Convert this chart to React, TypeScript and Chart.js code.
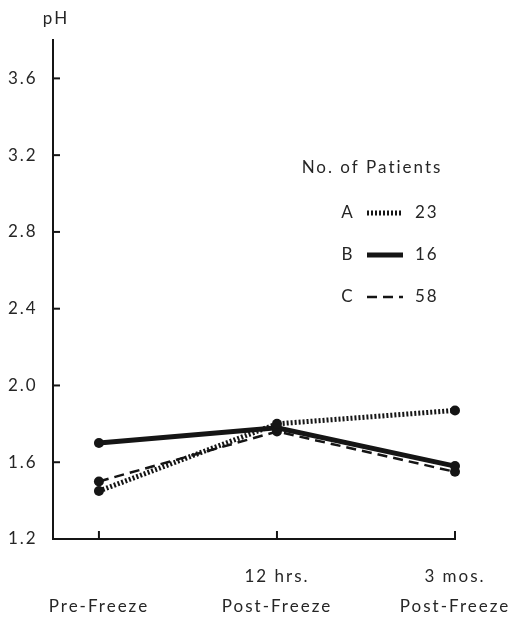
import { useEffect, useRef } from "react";
import { Chart, registerables } from "chart.js";

Chart.register(...registerables);

// Sampling times (x positions) and their two-line axis captions
const timeIndex = [0, 1, 2];
const timeTopLine = ["", "12 hrs.", "3 mos."];
const timeBottomLine = ["Pre-Freeze", "Post-Freeze", "Post-Freeze"];

// pH axis ticks
const phTicks = [1.2, 1.6, 2.0, 2.4, 2.8, 3.2, 3.6];

// Patient groups
const groupNames = ["A", "B", "C"];
const patientCounts = [23, 16, 58];

// Mean pH per group at each sampling time
const phA = [1.45, 1.8, 1.87];
const phB = [1.7, 1.78, 1.58];
const phC = [1.5, 1.76, 1.55];

const FONT = "Lato, 'DejaVu Sans', sans-serif";
const INK = "#151515";
const TEXT = "#262626";
const SPACING = "2px";
const FONT_SIZE = 17;

const lineStyles = [
  { width: 5, dash: [2, 2] },
  { width: 5, dash: [] as number[] },
  { width: 2.5, dash: [10, 6] },
];

const letterSpacingPlugin = {
  id: "letterSpacing",
  beforeLayout(chart: any) {
    chart.ctx.letterSpacing = SPACING;
  },
  beforeDraw(chart: any) {
    chart.ctx.letterSpacing = SPACING;
  },
};

const decorPlugin = {
  id: "decor",
  afterDraw(chart: any) {
    const { ctx, chartArea, scales } = chart;
    const x = scales.x;
    const y = scales.y;
    ctx.save();
    ctx.letterSpacing = SPACING;
    // inward tick marks on the pH axis
    ctx.strokeStyle = INK;
    ctx.lineWidth = 2;
    ctx.setLineDash([]);
    for (const v of phTicks) {
      if (v === phTicks[0]) continue;
      const py = y.getPixelForValue(v);
      ctx.beginPath();
      ctx.moveTo(chartArea.left, py);
      ctx.lineTo(chartArea.left + 7, py);
      ctx.stroke();
    }
    // upward tick marks on the time axis
    for (const v of timeIndex) {
      const px = x.getPixelForValue(v);
      ctx.beginPath();
      ctx.moveTo(px, chartArea.bottom);
      ctx.lineTo(px, chartArea.bottom - 8);
      ctx.stroke();
    }
    // axis unit
    ctx.fillStyle = TEXT;
    ctx.font = `${FONT_SIZE}px ${FONT}`;
    ctx.textAlign = "center";
    ctx.textBaseline = "middle";
    ctx.fillText("pH", chartArea.left + 3, 19);

    // legend
    ctx.fillText("No. of Patients", 372, 168);
    const rowY = [213, 255, 297];
    groupNames.forEach((name, i) => {
      const ry = rowY[i];
      ctx.textAlign = "center";
      ctx.fillText(name, 348, ry);
      ctx.textAlign = "left";
      ctx.fillText(String(patientCounts[i]), 415, ry);
      ctx.strokeStyle = INK;
      ctx.lineWidth = lineStyles[i].width;
      ctx.setLineDash(lineStyles[i].dash);
      ctx.lineCap = "butt";
      ctx.beginPath();
      ctx.moveTo(367, ry);
      ctx.lineTo(403, ry);
      ctx.stroke();
    });
    ctx.restore();
  },
};

function series(values: number[]) {
  return timeIndex.map((t, i) => ({ x: t, y: values[i] }));
}

export default function App() {
  const canvasRef = useRef<HTMLCanvasElement | null>(null);

  useEffect(() => {
    const canvas = canvasRef.current;
    if (!canvas) return;
    const allSeries = [phA, phB, phC];
    const chart = new Chart(canvas, {
      type: "line",
      data: {
        datasets: allSeries.map((vals, i) => ({
          label: groupNames[i],
          data: series(vals),
          borderColor: INK,
          backgroundColor: INK,
          borderWidth: lineStyles[i].width,
          borderDash: lineStyles[i].dash,
          borderCapStyle: "butt",
          pointRadius: 5,
          pointBorderWidth: 0,
          pointBackgroundColor: INK,
          tension: 0,
          clip: false,
        })) as any,
      },
      options: {
        responsive: false,
        animation: false,
        events: [],
        layout: { padding: { top: 40, right: 55, left: 8, bottom: 0 } },
        plugins: {
          legend: { display: false },
          tooltip: { enabled: false },
          title: { display: false },
        },
        scales: {
          x: {
            type: "linear",
            min: -0.258,
            max: 2,
            afterBuildTicks: (s: any) => {
              s.ticks = timeIndex.map((v) => ({ value: v }));
            },
            afterFit: (s: any) => {
              s.height = 84;
              s.paddingLeft = 0;
              s.paddingRight = 0;
            },
            ticks: {
              autoSkip: false,
              maxRotation: 0,
              minRotation: 0,
              padding: 22,
              color: TEXT,
              font: { family: FONT, size: FONT_SIZE, lineHeight: 1.8 },
              callback: (_v: any, idx: number) => [timeTopLine[idx], timeBottomLine[idx]],
            },
            grid: { display: true, drawOnChartArea: false, drawTicks: false },
            border: { display: true, color: INK, width: 2 },
          },
          y: {
            type: "linear",
            min: 1.2,
            max: 3.8,
            afterBuildTicks: (s: any) => {
              s.ticks = phTicks.map((v) => ({ value: v }));
            },
            afterFit: (s: any) => {
              s.width = 45;
              s.paddingTop = 0;
              s.paddingBottom = 0;
            },
            ticks: {
              padding: 12,
              crossAlign: "far",
              color: TEXT,
              font: { family: FONT, size: FONT_SIZE },
              callback: (v: any) => Number(v).toFixed(1),
            },
            grid: { display: true, drawOnChartArea: false, drawTicks: false },
            border: { display: true, color: INK, width: 2 },
          },
        },
      },
      plugins: [letterSpacingPlugin, decorPlugin],
    });
    return () => chart.destroy();
  }, []);

  return (
    <div
      style={{
        position: "fixed",
        left: 0,
        top: 0,
        width: 510,
        height: 623,
        background: "#ffffff",
      }}
    >
      <canvas ref={canvasRef} width={510} height={623} style={{ display: "block" }} />
    </div>
  );
}
